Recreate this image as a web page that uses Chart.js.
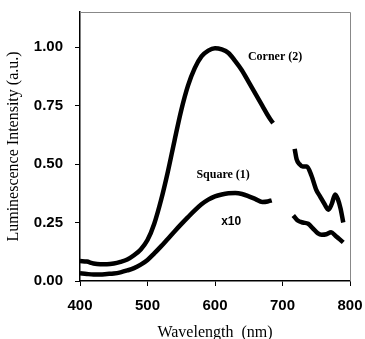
<!DOCTYPE html>
<html>
<head>
<meta charset="utf-8">
<script src="https://cdn.jsdelivr.net/npm/chart.js@4/dist/chart.umd.min.js"></script>
<style>
html,body{margin:0;padding:0;background:#fff;}
canvas{display:block;}
</style>
</head>
<body>
<canvas id="c" width="365" height="339"></canvas>
<script>
// Wavelength (nm) and luminescence intensity (a.u.); null marks the gap
const cornerWl = [400,410,420,430,440,450,460,470,480,490,500,510,520,530,540,550,560,570,580,590,600,610,620,630,640,650,660,670,680,686,
  700,
  718,721,725,730,736,743,750,756,762,768,773,778,782,786,790];
const cornerI = [0.085,0.083,0.075,0.072,0.072,0.075,0.082,0.092,0.11,0.135,0.175,0.245,0.345,0.465,0.6,0.73,0.835,0.91,0.96,0.985,0.995,0.99,0.975,0.94,0.9,0.85,0.8,0.75,0.7,0.675,
  null,
  0.565,0.52,0.5,0.49,0.49,0.45,0.39,0.36,0.33,0.305,0.33,0.37,0.35,0.31,0.25];
const squareWl = [400,410,420,430,440,450,460,470,480,490,500,510,520,530,540,550,560,570,580,590,600,610,620,630,640,650,660,670,678,684,
  700,
  716,722,730,738,745,752,758,765,772,778,784,790];
const squareI = [0.033,0.03,0.028,0.028,0.03,0.032,0.037,0.045,0.055,0.07,0.09,0.118,0.148,0.18,0.212,0.243,0.273,0.302,0.328,0.348,0.362,0.37,0.375,0.376,0.372,0.362,0.35,0.338,0.34,0.345,
  null,
  0.28,0.26,0.25,0.245,0.225,0.205,0.198,0.2,0.208,0.195,0.18,0.165];
const xTicks = [400,500,600,700,800];
const yTicks = [0,0.25,0.5,0.75,1.0];
const labels = [
  {text:'Corner (2)', x:689, y:0.96, font:'bold 12px "Liberation Serif"'},
  {text:'Square (1)', x:612, y:0.455, font:'bold 12px "Liberation Serif"'},
  {text:'x10', x:624, y:0.255, font:'bold 12px "Liberation Sans"'}
];

const toPts = (xs, ys) => xs.map((x,i)=>({x:x, y:ys[i]}));

const framePlugin = {
  id:'frame',
  afterDatasetsDraw(chart){
    const {ctx, chartArea:a, scales} = chart;
    ctx.save();
    ctx.strokeStyle = '#888';
    ctx.lineWidth = 1;
    ctx.beginPath();
    ctx.moveTo(a.left, a.top+0.5);
    ctx.lineTo(a.right+0.5, a.top+0.5);
    ctx.lineTo(a.right+0.5, a.bottom);
    ctx.stroke();
    ctx.fillStyle = '#000';
    ctx.textAlign = 'center';
    ctx.textBaseline = 'middle';
    labels.forEach(l=>{
      ctx.font = l.font;
      ctx.fillText(l.text, scales.x.getPixelForValue(l.x), scales.y.getPixelForValue(l.y));
    });
    ctx.restore();
  }
};

const noPad = s => { s.paddingLeft = 0; s.paddingRight = 0; s.paddingTop = 0; s.paddingBottom = 0; };

new Chart(document.getElementById('c'), {
  type:'line',
  data:{
    datasets:[
      {label:'Corner (2)', data:toPts(cornerWl, cornerI), borderColor:'#000', borderWidth:4.5, pointRadius:0, cubicInterpolationMode:'monotone', spanGaps:false},
      {label:'Square (1) x10', data:toPts(squareWl, squareI), borderColor:'#000', borderWidth:4.5, pointRadius:0, cubicInterpolationMode:'monotone', spanGaps:false}
    ]
  },
  options:{
    responsive:false,
    animation:false,
    events:[],
    layout:{padding:{top:12, right:15, left:0, bottom:0}},
    plugins:{legend:{display:false}, tooltip:{enabled:false}},
    scales:{
      x:{
        type:'linear', min:400, max:800,
        afterBuildTicks: s => { s.ticks = xTicks.map(v=>({value:v})); },
        afterFit: s => { s.height = 58; noPad(s); },
        grid:{drawOnChartArea:false, drawTicks:true, tickLength:5, tickColor:'#000', tickWidth:1},
        border:{display:true, color:'#000', width:1.5},
        ticks:{color:'#000', padding:11, maxRotation:0, font:{family:'"Liberation Sans", Arial, sans-serif', size:15, weight:'bold'}},
        title:{display:true, text:'Wavelength  (nm)', color:'#000', padding:{top:0,bottom:0}, font:{family:'"Liberation Serif", "Times New Roman", serif', size:16, lineHeight:0.75}}
      },
      y:{
        type:'linear', min:0, max:1.15,
        afterBuildTicks: s => { s.ticks = yTicks.map(v=>({value:v})); },
        afterFit: s => { s.width = 80; noPad(s); },
        grid:{drawOnChartArea:false, drawTicks:true, tickLength:5, tickColor:'#000', tickWidth:1},
        border:{display:true, color:'#000', width:1.5},
        ticks:{color:'#000', padding:12, callback: v => Number(v).toFixed(2), font:{family:'"Liberation Sans", Arial, sans-serif', size:15, weight:'bold'}},
        title:{display:true, text:'Luminescence Intensity (a.u.)', color:'#000', padding:{top:4,bottom:4}, font:{family:'"Liberation Serif", "Times New Roman", serif', size:16, lineHeight:1.2}}
      }
    }
  },
  plugins:[framePlugin]
});
</script>
</body>
</html>
